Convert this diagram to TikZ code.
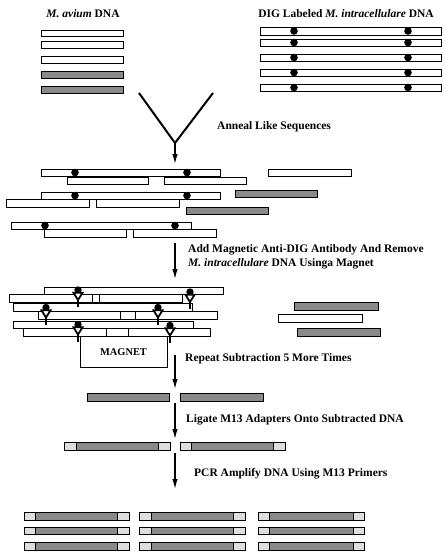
\documentclass[tikz,border=0pt]{standalone}
\usepackage{fontspec}
\setmainfont{Liberation Serif}
\usetikzlibrary{arrows.meta}
\definecolor{dgray}{RGB}{138,138,138}
\definecolor{lgray}{RGB}{222,222,222}
\tikzset{
  wbar/.style={draw=black,line width=0.8pt,fill=white},
  gbar/.style={draw=black,line width=0.8pt,fill=dgray},
  lbl/.style={font=\fontsize{11.5}{13}\selectfont\bfseries,inner sep=0pt},
  flow/.style={line width=1.3pt,-{Latex[length=10pt,width=5.5pt]}},
  vline/.style={line width=2pt},
  dig/.style={fill=black},
}
\newcommand{\wb}[4]{\draw[wbar] (#1,#3) rectangle (#2,#4);}
\newcommand{\gb}[4]{\draw[gbar] (#1,#3) rectangle (#2,#4);}
\newcommand{\dg}[2]{\fill[dig] ({#1},{#2}) circle (3.8);}
\newcommand{\adb}[6]{%
  \fill[lgray] (#1,#3) rectangle (#2,#4);
  \fill[dgray] (#5,#3) rectangle (#6,#4);
  \draw[line width=0.8pt] (#1,#3) rectangle (#2,#4) (#5,#3) -- (#5,#4) (#6,#3) -- (#6,#4);}
\newcommand{\antib}[2]{%
  \fill ({#1},{#2}) circle (3.7);
  \draw[line width=1.8pt,fill=white,line join=miter] ({#1-4.5},{#2+2.8}) -- ({#1+4.5},{#2+2.8}) -- ({#1},{#2+10}) -- cycle;
  \draw[line width=1.8pt] ({#1},{#2+10}) -- ({#1},{#2+17});}
\begin{document}
\begin{tikzpicture}[x=1pt,y=-1pt]
\useasboundingbox (0,0) rectangle (446,557);
% top labels
\node[lbl] (avl) at (83,14) {\textit{M. avium} DNA};
\node[lbl] (dgl) at (346,14) {DIG Labeled \textit{M. intracellulare} DNA};
% M. avium bars
\wb{41}{123}{30}{36}
\wb{41}{123}{41}{48}
\wb{41}{123}{56}{63}
\gb{41}{123}{71}{78}
\gb{41}{123}{86}{93}
% DIG bars
\foreach \ya/\yb in {27/35,39/46,54/61,69/76,84/91}{
  \wb{260}{441}{\ya}{\yb}
  \dg{294}{(\ya+\yb)/2}
  \dg{408}{(\ya+\yb)/2}
}
% V and arrow
\coordinate (vl) at (139,93);
\coordinate (vr) at (213,93);
\coordinate (vx) at (175,143);
\coordinate (a1) at (175,164);
\draw[vline,line join=miter] (vl) -- (vx) -- (vr);
\draw[flow] (vx) -- (a1);
\node[lbl,anchor=west] (t1) at (217,127) {Anneal Like Sequences};
% annealed
\wb{41}{220}{169}{176}
\dg{75}{172.5}\dg{187}{172.5}
\wb{67}{148}{177}{184}
\wb{164}{246}{177}{184}
\wb{268}{351}{169}{176}
\wb{41}{220}{192}{199}
\dg{75}{195.5}\dg{187}{195.5}
\wb{6}{89}{199}{207}
\wb{96}{179}{199}{207}
\gb{235}{317}{190}{197}
\gb{186}{268}{207}{214}
\wb{11}{191}{222}{229}
\dg{45}{225.5}\dg{175}{225.5}
\wb{44}{126}{229}{237}
\wb{133}{216}{229}{237}
% arrow 2
\coordinate (b0) at (175,243);
\coordinate (b1) at (175,279);
\draw[flow] (b0) -- (b1);
\node[lbl,anchor=west] (t2a) at (188,250) {Add Magnetic Anti-DIG Antibody And Remove};
\node[lbl,anchor=west] (t2b) at (188,263.5) {\textit{M. intracellulare} DNA Usinga Magnet};
% magnet group
\draw[line width=0.8pt,fill=white] (80,336) rectangle (167,367);
\node[font=\fontsize{10.4}{12}\selectfont\bfseries,inner sep=0pt] (mag) at (123.5,352) {MAGNET};
\wb{44}{223}{287}{294}
\wb{9}{92}{294}{302}
\wb{92}{99}{294}{302}
\wb{99}{182}{294}{302}
\wb{13}{192}{303}{311}
\wb{38}{120}{311}{319}
\wb{120}{135}{311}{319}
\wb{135}{217}{311}{319}
\wb{13}{193}{321}{328}
\wb{23}{106}{328}{336}
\wb{106}{128}{328}{336}
\wb{128}{210}{328}{336}
\antib{78}{290}
\antib{190}{292}
\antib{46}{307.5}
\antib{158}{307.5}
\antib{78}{324.5}
\antib{170}{325.5}
% right bars
\gb{294}{378}{302}{310}
\wb{278}{362}{314}{322}
\gb{297}{380}{328}{336}
% arrow 3
\coordinate (c0) at (175,355);
\coordinate (c1) at (175,389);
\draw[flow] (c0) -- (c1);
\node[lbl,anchor=west] (t3) at (185,359) {Repeat Subtraction 5 More Times};
\gb{87}{169}{393}{401}
\gb{180}{263}{393}{401}
% arrow 4
\coordinate (d0) at (175,403);
\coordinate (d1) at (175,439);
\draw[flow] (d0) -- (d1);
\node[lbl,anchor=west] (t4) at (186,420) {Ligate M13 Adapters Onto Subtracted DNA};
\adb{64}{170}{442}{450}{76}{158}
\adb{180}{285}{442}{450}{191}{273}
% arrow 5
\coordinate (e0) at (175,453);
\coordinate (e1) at (175,489);
\draw[flow] (e0) -- (e1);
\node[lbl,anchor=west] (t5) at (194,474) {PCR Amplify DNA Using M13 Primers};
\foreach \ya/\yb in {512/520,527/534,542/550}{
  \adb{24}{129}{\ya}{\yb}{35}{117}
  \adb{139}{245}{\ya}{\yb}{151}{233}
  \adb{258}{364}{\ya}{\yb}{269}{353}
}
\end{tikzpicture}
\end{document}
